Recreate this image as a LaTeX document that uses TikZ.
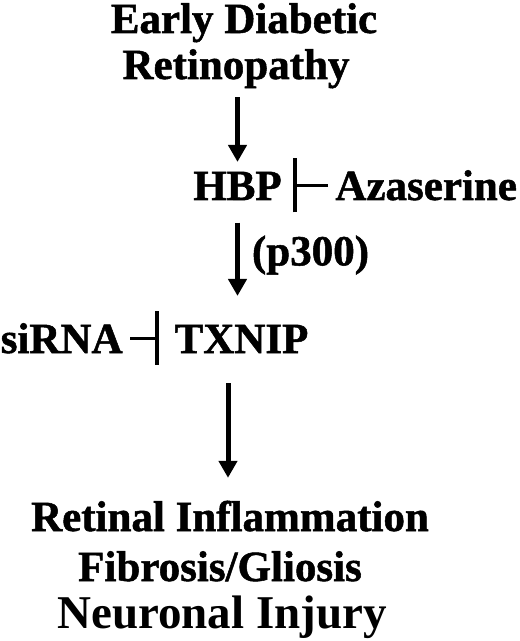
\documentclass[tikz,border=0pt]{standalone}
\usepackage{fontspec}
\setmainfont{Liberation Serif}
\newfontfamily\heavyfont{Liberation Serif Bold}[FakeBold=1.2]
\usepackage{tikz}
\usetikzlibrary{arrows.meta, positioning, calc}

\begin{document}
\begin{tikzpicture}[
    x=0.5pt, y=-0.5pt,
    label/.style={inner sep=0pt, font=\fontsize{21.5}{24}\selectfont\heavyfont},
    biglabel/.style={inner sep=0pt, font=\fontsize{23.5}{26}\selectfont\bfseries},
    arrow/.style={-{Triangle[length=8.5pt, width=9pt]}, line width=2.5pt},
    inhibit/.style={-{Bar[width=27pt, line width=2pt]}, line width=1.5pt},
]
\useasboundingbox (0,0) rectangle (519,641);

% pathway
\node[label, anchor=base] (early) at (244,33) {Early Diabetic};
\node[label, anchor=base] (retino) at (236,79) {Retinopathy};
\node[label, anchor=base] (hbp) at (237.5,200) {HBP};
\node[label, anchor=base west] (aza) at (335,200) {Azaserine};
\node[label, anchor=base] (txnip) at (241.5,353) {TXNIP};
\node[label, anchor=base east] (sirna) at (123,353) {siRNA};

% outcomes
\node[label, anchor=base] (inflam) at (230,531) {Retinal Inflammation};
\node[label, anchor=base] (fibro) at (220,581) {Fibrosis/Gliosis};
\node[biglabel, anchor=base] (neuro) at (222,628) {Neuronal Injury};

\draw[arrow, shorten <=4.25pt, shorten >=4.75pt] (hbp.north |- retino.south) -- (hbp.north);
\draw[arrow, shorten <=11pt, shorten >=14.25pt] (hbp.south) -- (hbp.south |- txnip.north)
    node[label, pos=0.44, right=6pt] (p300) {(p300)};
\draw[arrow, shorten <=15pt, shorten >=11.25pt] ([xshift=-6.75pt]txnip.south) -- ([xshift=-6.75pt]txnip.south |- inflam.north);
\draw[inhibit, shorten <=3.5pt, shorten >=5.5pt] (aza.west) -- (aza.west -| hbp.east);
\draw[inhibit, shorten <=3.5pt, shorten >=7.5pt] (sirna.east) -- (sirna.east -| txnip.west);

\end{tikzpicture}
\end{document}
